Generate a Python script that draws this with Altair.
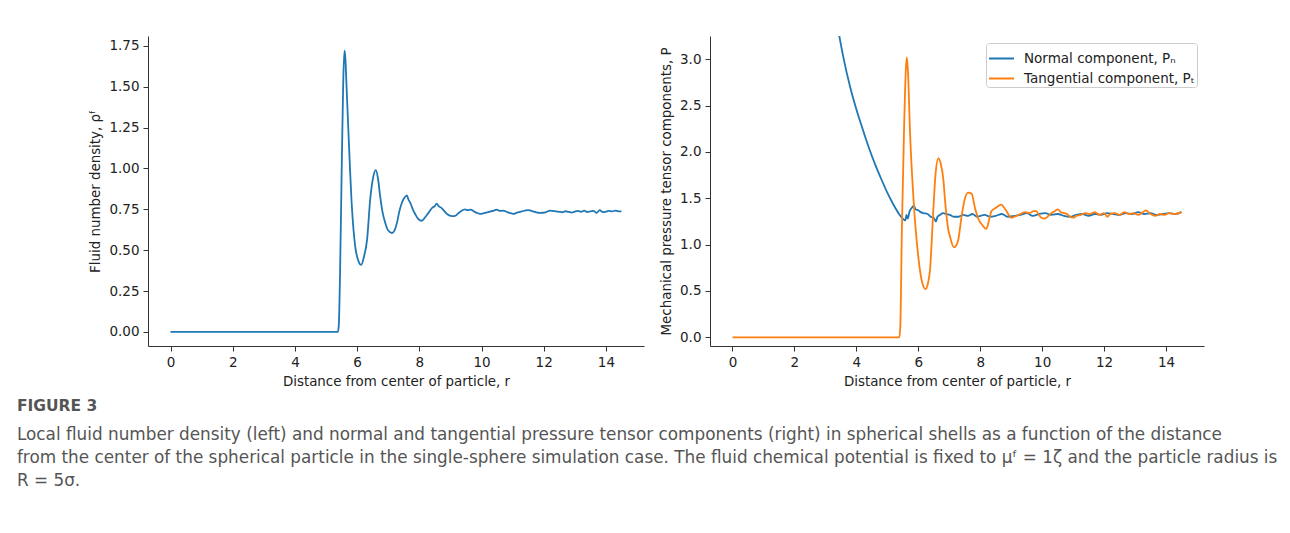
import altair as alt
import pandas as pd

# ---------------- data ----------------
r_rho = [0.0, 5.38, 5.41, 5.45, 5.50, 5.55, 5.59, 5.62, 5.66, 5.73, 5.83, 5.94, 6.03, 6.13, 6.22,
         6.32, 6.42, 6.52, 6.60, 6.67, 6.74, 6.82, 6.90, 7.00, 7.12, 7.20, 7.28, 7.36, 7.44, 7.52,
         7.60, 7.65, 7.71, 7.79, 7.87, 7.97, 8.08, 8.18, 8.30, 8.42, 8.50, 8.56, 8.62, 8.70, 8.78,
         8.90, 9.05, 9.15, 9.25, 9.35, 9.47, 9.55, 9.65, 9.75, 9.85, 9.96, 10.05, 10.15, 10.3, 10.4,
         10.49, 10.58, 10.7, 10.8, 10.9, 11.03, 11.12, 11.25, 11.4, 11.5, 11.56, 11.65, 11.75, 11.85,
         11.99, 12.1, 12.2, 12.3, 12.4, 12.5, 12.6, 12.7, 12.8, 12.9, 13.0, 13.1, 13.2, 13.3, 13.4,
         13.5, 13.6, 13.7, 13.8, 13.9, 14.0, 14.1, 14.2, 14.3, 14.4, 14.5]
rho = [0.0, 0.0, 0.04, 0.35, 0.95, 1.50, 1.72, 1.68, 1.50, 1.18, 0.77, 0.52, 0.44, 0.41, 0.46,
       0.565, 0.81, 0.95, 0.99, 0.94, 0.83, 0.73, 0.67, 0.62, 0.605, 0.62, 0.667, 0.74, 0.79, 0.82,
       0.835, 0.81, 0.79, 0.75, 0.72, 0.69, 0.68, 0.70, 0.73, 0.76, 0.77, 0.785, 0.77, 0.76, 0.745,
       0.72, 0.708, 0.71, 0.725, 0.74, 0.75, 0.745, 0.748, 0.738, 0.728, 0.722, 0.725, 0.73, 0.738, 0.742,
       0.748, 0.74, 0.742, 0.735, 0.728, 0.722, 0.728, 0.735, 0.742, 0.745, 0.743, 0.738, 0.732, 0.728,
       0.729, 0.735, 0.742, 0.74, 0.738, 0.735, 0.732, 0.738, 0.734, 0.73, 0.736, 0.74, 0.735, 0.742, 0.733,
       0.738, 0.74, 0.728, 0.745, 0.733, 0.736, 0.74, 0.737, 0.742, 0.738, 0.737]

r_pn = [3.30, 3.45, 3.6, 3.8, 4.0, 4.2, 4.4, 4.6, 4.8, 5.0, 5.2, 5.4, 5.5, 5.58, 5.62, 5.66,
        5.72, 5.8, 5.85, 5.92, 6.0, 6.08, 6.16, 6.3, 6.4, 6.49, 6.53, 6.57, 6.62, 6.7, 6.8, 6.9,
        7.02, 7.15, 7.3, 7.45, 7.6, 7.75, 7.9, 8.0, 8.15, 8.3, 8.5, 8.7, 8.9, 9.1, 9.3, 9.5, 9.7,
        9.9, 10.1, 10.3, 10.5, 10.7, 10.9, 11.1, 11.3, 11.5, 11.7, 11.9, 12.1, 12.3, 12.5, 12.7,
        12.9, 13.1, 13.3, 13.5, 13.7, 13.9, 14.1, 14.3, 14.5]
pn = [3.55, 3.25, 2.99, 2.70, 2.46, 2.25, 2.05, 1.87, 1.71, 1.56, 1.43, 1.32, 1.28, 1.26, 1.32, 1.28,
      1.36, 1.40, 1.42, 1.38, 1.37, 1.35, 1.34, 1.33, 1.30, 1.29, 1.27, 1.25, 1.30, 1.32, 1.34, 1.33,
      1.32, 1.30, 1.30, 1.32, 1.31, 1.33, 1.30, 1.31, 1.32, 1.30, 1.31, 1.33, 1.30, 1.31, 1.32, 1.34, 1.31,
      1.33, 1.34, 1.32, 1.33, 1.31, 1.30, 1.32, 1.33, 1.31, 1.33, 1.32, 1.34, 1.33, 1.32, 1.34,
      1.33, 1.35, 1.33, 1.34, 1.32, 1.33, 1.34, 1.33, 1.35]

r_pt = [0.0, 5.39, 5.42, 5.47, 5.54, 5.60, 5.63, 5.67, 5.73, 5.84, 6.0, 6.12, 6.24, 6.31, 6.38,
        6.48, 6.56, 6.65, 6.72, 6.81, 6.86, 6.97, 7.02, 7.15, 7.22, 7.29, 7.4, 7.5, 7.61, 7.72,
        7.84, 7.95, 8.09, 8.2, 8.29, 8.36, 8.52, 8.68, 8.77, 8.85, 9.0, 9.17, 9.3, 9.45, 9.6,
        9.72, 9.81, 9.9, 9.97, 10.08, 10.2, 10.3, 10.4, 10.51, 10.6, 10.7, 10.8, 10.9, 11.0, 11.1,
        11.25, 11.4, 11.55, 11.7, 11.85, 12.0, 12.1, 12.2, 12.35, 12.5, 12.65, 12.8, 12.95, 13.1,
        13.25, 13.35, 13.5, 13.65, 13.8, 13.95, 14.1, 14.3, 14.5]
pt = [0.0, 0.0, 0.12, 1.16, 2.24, 2.90, 3.02, 2.85, 2.24, 1.52, 0.87, 0.60, 0.52, 0.58, 0.73,
      1.34, 1.77, 1.93, 1.88, 1.70, 1.49, 1.16, 1.09, 0.97, 0.99, 1.05, 1.31, 1.49, 1.56, 1.55,
      1.38, 1.27, 1.20, 1.17, 1.27, 1.36, 1.40, 1.43, 1.40, 1.36, 1.29, 1.31, 1.33, 1.35, 1.34,
      1.36, 1.36, 1.32, 1.29, 1.28, 1.31, 1.34, 1.36, 1.38, 1.35, 1.34, 1.33, 1.30, 1.29, 1.31,
      1.32, 1.34, 1.33, 1.35, 1.32, 1.34, 1.30, 1.33, 1.34, 1.32, 1.35, 1.33, 1.34, 1.32,
      1.35, 1.37, 1.33, 1.31, 1.33, 1.32, 1.34, 1.33, 1.35]

series_names = ["Normal component, Pₙ", "Tangential component, Pₜ"]
series_colors = ["#1f77b4", "#ff7f0e"]

x_ticks = [0, 2, 4, 6, 8, 10, 12, 14]
rho_ticks = [0.0, 0.25, 0.5, 0.75, 1.0, 1.25, 1.5, 1.75]
p_ticks = [0.0, 0.5, 1.0, 1.5, 2.0, 2.5, 3.0]

caption_head = "FIGURE 3"
caption_lines = [
    "Local fluid number density (left) and normal and tangential pressure tensor components (right) in spherical shells as a function of the distance",
    "from the center of the spherical particle in the single-sphere simulation case. The fluid chemical potential is fixed to μᶠ = 1ζ and the particle radius is",
    "R = 5σ.",
]

# ---------------- tables ----------------
df_rho = pd.DataFrame({"r": r_rho, "rho": rho})
df_p = pd.concat([
    pd.DataFrame({"r": r_pn, "P": pn, "series": series_names[0], "order": 0}),
    pd.DataFrame({"r": r_pt, "P": pt, "series": series_names[1], "order": 1}),
])

FONT = "DejaVu Sans"
x_scale = alt.Scale(domain=[-0.725, 15.225], nice=False, zero=False)
x_axis = alt.Axis(values=x_ticks, format="d", title="Distance from center of particle, r")

left = alt.Chart(df_rho).mark_line(color="#1f77b4", strokeWidth=1.8, interpolate="monotone").encode(
    x=alt.X("r:Q", scale=x_scale, axis=x_axis),
    y=alt.Y("rho:Q", scale=alt.Scale(domain=[-0.086, 1.81], nice=False, zero=False),
            axis=alt.Axis(values=rho_ticks, format=".2f", title="Fluid number density, ρᶠ")),
).properties(width=496, height=310)

right = alt.Chart(df_p).mark_line(strokeWidth=1.8, interpolate="monotone", clip=True).encode(
    x=alt.X("r:Q", scale=x_scale, axis=x_axis),
    y=alt.Y("P:Q", scale=alt.Scale(domain=[-0.094, 3.25], nice=False, zero=False),
            axis=alt.Axis(values=p_ticks, format=".1f", title="Mechanical pressure tensor components, P")),
    color=alt.Color("series:N", scale=alt.Scale(domain=series_names, range=series_colors),
                    legend=alt.Legend(title=None, orient="top-right", offset=7, symbolType="stroke",
                                      symbolSize=625, symbolStrokeWidth=2, labelFontSize=13.5,
                                      labelFont=FONT, labelColor="#222", strokeColor="#cccccc",
                                      fillColor="white", padding=2, cornerRadius=3, rowPadding=-5,
                                      labelOffset=9, labelLimit=400)),
    order="order:Q",
).properties(width=494, height=310)

chart = alt.hconcat(left, right, spacing=15).resolve_legend(color="independent").resolve_scale(
    color="independent"
).properties(
    background="white",
    padding={"left": 8, "top": 28, "right": 0, "bottom": 5},
    title=alt.TitleParams(
        text=caption_head, subtitle=caption_lines, orient="bottom", anchor="start", dx=-72,
        offset=11, font=FONT, fontSize=15.5, fontWeight="bold", color="#555555",
        subtitleFont=FONT, subtitleFontSize=16.85, subtitleColor="#555555",
        subtitleLineHeight=23, subtitlePadding=13,
    ),
).configure_view(stroke=None).configure_axis(
    grid=False, domainColor="#333333", tickColor="#333333", tickSize=5, labelFont=FONT,
    labelFontSize=13.5, labelColor="#222222", titleFont=FONT, titleFontSize=13.4,
    titleFontWeight="normal", titleColor="#222222", labelPadding=4, titlePadding=6,
)

chart.save("out.html", embed_options={"renderer": "svg", "actions": False})
